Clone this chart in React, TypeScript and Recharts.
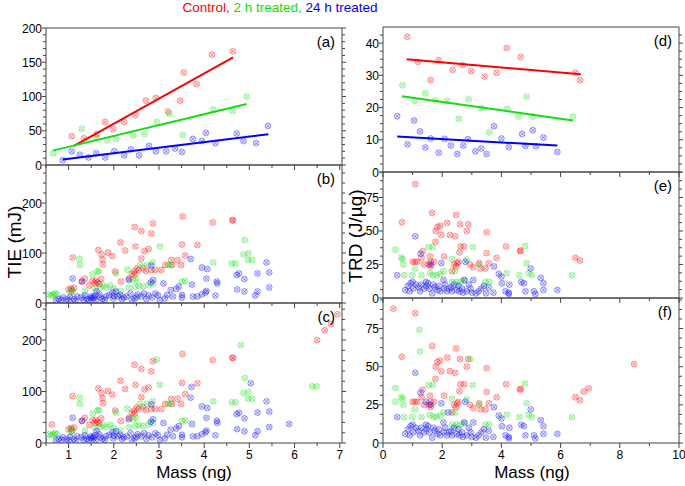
import React from "react";
import { ScatterChart, Scatter, XAxis, YAxis } from "recharts";

type Pt = { x: number; y: number };
const pts = (a: number[][]): Pt[] => a.map(([x, y]) => ({ x, y }));

const RED = "#ff0000";
const GREEN = "#11dd11";
const BLUE = "#0000ff";
const AXIS = "#444";
const FONT = "'Liberation Sans', Arial, sans-serif";

// ticks
const massMajorL = [1, 2, 3, 4, 5, 6, 7];
const massMinorL = [0.5, 1.5, 2.5, 3.5, 4.5, 5.5, 6.5];
const massMajorR = [0, 2, 4, 6, 8, 10];
const massMinorR = [1, 3, 5, 7, 9];
const tieMajorA = [0, 50, 100, 150, 200];
const tieMinorA = [10, 20, 30, 40, 60, 70, 80, 90, 110, 120, 130, 140, 160, 170, 180, 190];
const tieMajorB = [0, 100, 200];
const tieMinorB = [20, 40, 60, 80, 120, 140, 160, 180, 220, 240, 260];
const trdMajorD = [0, 10, 20, 30, 40];
const trdMinorD = [2.5, 5, 7.5, 12.5, 15, 17.5, 22.5, 25, 27.5, 32.5, 35, 37.5, 42.5];
const trdMajorE = [0, 25, 50, 75];
const trdMinorE = [6.25, 12.5, 18.75, 31.25, 37.5, 43.75, 56.25, 62.5, 68.75, 81.25, 87.5, 93.75];

// (a) TIE vs mass, averaged
const redA = [[1.07, 42], [1.34, 39], [1.62, 45], [1.81, 63], [1.99, 52], [2.23, 63], [2.48, 73], [2.71, 94], [2.93, 98], [3.2, 78], [3.47, 94], [3.55, 135], [3.83, 118], [4.17, 161], [4.64, 166]];
const greenA = [[0.66, 17], [1.29, 53], [1.62, 40], [1.86, 36], [2.05, 38], [2.43, 43], [2.68, 45], [2.95, 63], [3.23, 75], [3.52, 44], [4.2, 81], [4.63, 79], [4.94, 100]];
const blueA = [[0.87, 7], [1.07, 20], [1.25, 15], [1.44, 11], [1.61, 17], [1.81, 11], [2.01, 20], [2.23, 14], [2.38, 23], [2.56, 14], [2.78, 28], [2.93, 20], [3.16, 20], [3.36, 24], [3.51, 19], [3.75, 38], [3.95, 35], [4.04, 47], [4.25, 32], [4.72, 46], [4.87, 35], [5.15, 32], [5.41, 57]];
const redFitA = [[1.12, 28], [4.64, 157]];
const greenFitA = [[0.65, 21], [4.94, 89]];
const blueFitA = [[0.87, 8], [5.42, 45]];

// (d) TRD vs mass, averaged
const redD = [[0.82, 42], [1.18, 34.2], [1.61, 28.5], [1.88, 34.7], [2.35, 31.7], [2.69, 33.2], [2.98, 31.3], [3.43, 29.6], [3.84, 30.8], [4.18, 38.5], [4.65, 35.7], [6.5, 30.8], [6.66, 28.5]];
const greenD = [[0.66, 26.9], [1.07, 22.1], [1.43, 24.4], [1.77, 22.2], [2.17, 22.1], [2.56, 16.5], [2.89, 22.5], [3.32, 19.8], [3.59, 12.3], [4.2, 19.6], [4.58, 17.2], [4.85, 23.4], [5.06, 17.2], [6.41, 17.2]];
const blueD = [[0.48, 17.3], [0.83, 8.6], [1.05, 16], [1.25, 12.6], [1.43, 7.6], [1.61, 10.4], [1.88, 6], [2.08, 10.3], [2.29, 8.2], [2.51, 5.6], [2.71, 8.2], [2.87, 10.2], [3.12, 6.4], [3.32, 7.3], [3.5, 5.6], [3.75, 14.2], [4.0, 10.4], [4.25, 7.7], [4.7, 11.8], [4.81, 8.1], [5.06, 13], [5.17, 8], [5.42, 10.7], [5.89, 6.2]];
const redFitD = [[0.8, 35], [6.68, 30.3]];
const greenFitD = [[0.64, 23.5], [6.41, 16]];
const blueFitD = [[0.48, 11], [5.89, 8.2]];

// (b) TIE, individual
const redB = [[1.09, 91], [1.05, 29], [1.08, 24], [1.29, 43], [1.36, 49], [1.46, 35], [1.53, 44], [1.59, 39], [1.66, 106], [1.64, 41], [1.73, 97], [1.75, 87], [1.76, 77], [1.87, 101], [1.97, 94], [2.03, 63], [2.15, 121], [2.16, 43], [2.25, 105], [2.34, 49], [2.46, 152], [2.48, 113], [2.46, 57], [2.45, 63], [2.51, 69], [2.61, 144], [2.61, 89], [2.68, 104], [2.71, 64], [2.77, 108], [2.83, 139], [2.83, 66], [2.87, 159], [2.92, 66], [3.05, 66], [3.14, 76], [3.27, 86], [3.29, 76], [3.41, 86], [3.49, 76], [3.51, 117], [3.52, 173], [3.58, 95], [3.85, 116], [4.19, 161], [4.64, 165], [4.62, 166], [1.6, 45], [1.68, 38], [1.72, 48], [2.4, 58], [2.55, 66], [2.65, 70], [1.0, 27], [1.12, 30]];
const greenB = [[0.57, 17], [0.66, 17], [0.74, 17], [1.07, 26], [1.05, 21], [1.24, 88], [1.25, 76], [1.36, 24], [1.53, 57], [1.64, 63], [1.67, 64], [1.7, 31], [1.77, 35], [1.84, 31], [1.92, 35], [2.0, 29], [2.05, 59], [2.15, 24], [2.3, 67], [2.34, 31], [2.43, 46], [2.48, 33], [2.49, 49], [2.58, 76], [2.65, 33], [2.73, 76], [2.77, 36], [2.86, 81], [2.87, 39], [3.02, 113], [3.2, 76], [3.26, 76], [3.51, 43], [3.58, 44], [4.2, 81], [4.61, 79], [4.69, 79], [4.9, 126], [4.87, 97], [4.98, 99], [4.97, 86], [5.06, 86], [0.62, 15], [0.7, 19], [1.58, 30], [2.55, 35]];
const blueB = [[1.09, 49], [1.3, 43], [0.78, 8], [0.88, 11], [0.96, 7], [1.03, 12], [1.12, 8], [1.19, 13], [1.28, 11], [1.36, 15], [1.41, 8], [1.49, 13], [1.55, 9], [1.59, 15], [1.62, 23], [1.68, 17], [1.75, 8], [1.83, 13], [1.9, 16], [1.97, 21], [1.99, 9], [2.05, 23], [2.09, 13], [2.14, 16], [2.18, 8], [2.28, 13], [2.33, 46], [2.37, 19], [2.46, 9], [2.53, 17], [2.61, 13], [2.67, 19], [2.77, 15], [2.83, 75], [2.82, 41], [2.87, 46], [2.92, 19], [2.98, 15], [3.1, 39], [3.13, 9], [3.18, 16], [3.26, 26], [3.31, 13], [3.38, 28], [3.44, 33], [3.51, 16], [3.51, 11], [3.7, 88], [3.73, 37], [3.75, 13], [3.85, 13], [3.95, 17], [4.03, 21], [4.05, 24], [3.95, 71], [4.07, 68], [4.05, 49], [4.25, 15], [4.28, 43], [4.29, 39], [4.72, 56], [4.77, 59], [4.73, 27], [4.89, 48], [4.89, 23], [5.13, 15], [5.18, 23], [5.18, 59], [5.38, 81], [5.44, 61], [5.44, 31], [1.5, 10], [1.45, 6], [1.6, 5], [1.55, 12], [0.72, 5], [0.84, 6], [1.0, 5], [1.15, 4], [1.33, 6], [1.7, 11], [1.8, 6], [2.0, 14], [2.22, 11], [2.4, 7], [2.5, 12], [2.72, 8], [2.85, 11], [3.02, 6]];

// (c) adds the remaining individual samples
const redCExtra = [[0.63, 36], [6.5, 200], [6.67, 219], [6.81, 231], [6.95, 250]];
const greenCExtra = [[2.95, 162], [4.81, 190], [6.39, 110], [6.49, 110]];
const blueCExtra = [[3.72, 109], [5.03, 116], [5.88, 37], [0.45, 7]];

// (e) TRD, individual
const redE = [[0.64, 56.5], [1.09, 85], [1.0, 27], [1.08, 27], [1.16, 27], [1.34, 35], [1.3, 30], [1.39, 25], [1.59, 31], [1.61, 27], [1.66, 63.5], [1.61, 23.5], [1.72, 27], [1.77, 42], [1.78, 50], [1.84, 53], [1.93, 54], [1.97, 47], [2.06, 31], [2.17, 56], [2.26, 47], [2.33, 20], [2.44, 46], [2.47, 62], [2.58, 34], [2.6, 55], [2.62, 38.5], [2.51, 26], [2.47, 23.5], [2.74, 38.5], [2.83, 50], [2.88, 55], [2.94, 25], [3.05, 23], [3.25, 26], [3.3, 22], [3.46, 22], [3.5, 33.5], [3.5, 49], [3.57, 26], [3.84, 30], [4.16, 38.5], [4.63, 35], [4.65, 35.5], [6.5, 30], [6.65, 28], [1.55, 25], [2.4, 25], [2.55, 27]];
const greenE = [[0.42, 36], [0.62, 30], [0.66, 29], [0.69, 25], [0.71, 17], [0.99, 17], [1.08, 22], [1.3, 17], [1.54, 38], [1.68, 38], [1.59, 18.5], [1.7, 17], [1.81, 17], [1.93, 18], [2.04, 20], [2.33, 29], [2.43, 20], [2.33, 12], [2.49, 12], [2.62, 12], [2.76, 13], [2.83, 28.5], [3.03, 38], [3.25, 25], [3.46, 12], [3.59, 12], [4.18, 18.5], [4.61, 17], [4.8, 39], [4.85, 26], [4.92, 18.5], [5.03, 17], [6.38, 17]];
const blueE = [[0.48, 17], [1.09, 46], [1.27, 33], [0.75, 6], [0.84, 9], [0.93, 11], [1.02, 7], [1.11, 10], [1.2, 8], [1.3, 10], [1.39, 7], [1.47, 9], [1.57, 7], [1.61, 25], [1.66, 3.5], [1.75, 8], [1.84, 6], [1.93, 5], [1.97, 26], [2.04, 13.5], [2.06, 7], [2.15, 5], [2.24, 7], [2.33, 5], [2.4, 10], [2.49, 6], [2.58, 5], [2.67, 7], [2.74, 13.5], [2.78, 27], [2.83, 5], [2.96, 7], [3.05, 13.5], [3.14, 3.5], [3.23, 5], [3.32, 7], [3.41, 9], [3.48, 3.5], [3.57, 8], [3.73, 4], [3.75, 23.5], [3.91, 18], [4.0, 16], [4.02, 11], [4.14, 5], [4.25, 4], [4.27, 10], [4.25, 3], [4.67, 12], [4.76, 11], [4.81, 5], [4.99, 22], [5.1, 5], [5.15, 3], [5.33, 15], [5.42, 11], [5.42, 6], [5.89, 6], [1.0, 12], [1.45, 12], [1.7, 10], [0.9, 5], [1.25, 5], [1.52, 11], [1.88, 9], [2.1, 10], [2.3, 8], [2.55, 9], [2.7, 4], [2.9, 10], [3.0, 4]];

// (f) adds the remaining individual samples
const redFExtra = [[0.35, 88], [6.79, 33.8], [6.95, 35.8], [8.48, 51.8]];
const greenFExtra = [[1.23, 74], [1.25, 60], [2.94, 55], [0.42, 27]];
const blueFExtra = [[1.45, 27], [2.2, 20]];

type Series = { data: number[][]; color: string };

const Marker = (color: string) => (props: any) => {
  const { cx, cy } = props;
  if (cx == null || cy == null) return <g />;
  const d = 1.9;
  return (
    <g>
      <circle cx={cx} cy={cy} r={2.9} fill={color} fillOpacity={0.1} stroke={color} strokeOpacity={0.38} strokeWidth={1} />
      <path
        d={`M${cx - d},${cy - d}L${cx + d},${cy + d}M${cx - d},${cy + d}L${cx + d},${cy - d}`}
        stroke={color}
        strokeOpacity={0.38}
        strokeWidth={0.9}
      />
    </g>
  );
};

const noShape = () => <g />;

function Panel(props: {
  left: number;
  top: number;
  width: number;
  height: number;
  xDomain: [number, number];
  xMajor: number[];
  xMinor: number[];
  yDomain: [number, number];
  yMajor: number[];
  yMinor: number[];
  xLabels?: boolean;
  topTicks?: boolean;
  tag: string;
  series: Series[];
  fits?: Series[];
}) {
  const { left, top, width, height, xMajor, yMajor, xLabels, topTicks } = props;
  const ML = 40, MR = 12, MT = 10, MB = 26, AX = 6;
  const isMajor = (arr: number[], v: number) => arr.indexOf(v) >= 0;

  const bottomTick = (t: any) => {
    const v = t.payload.value;
    const big = isMajor(xMajor, v);
    return (
      <g>
        <line x1={t.x} x2={t.x} y1={t.y} y2={t.y + (big ? 5 : 3)} stroke={AXIS} />
        {xLabels && big && (
          <text x={t.x} y={t.y + 16} textAnchor="middle" fontSize={12} fontFamily={FONT} fill="#000">
            {v}
          </text>
        )}
      </g>
    );
  };
  const topTick = (t: any) => {
    const v = t.payload.value;
    const big = isMajor(xMajor, v);
    if (!topTicks) return <g />;
    return <line x1={t.x} x2={t.x} y1={t.y - 3} y2={t.y + (big ? 4 : 2)} stroke={AXIS} />;
  };
  const leftTick = (t: any) => {
    const v = t.payload.value;
    const big = isMajor(yMajor, v);
    return (
      <g>
        <line x1={t.x - (big ? 4 : 3)} x2={t.x} y1={t.y} y2={t.y} stroke={AXIS} />
        {big && (
          <text x={t.x - 4} y={t.y + 4.5} textAnchor="end" fontSize={12} fontFamily={FONT} fill="#000">
            {v}
          </text>
        )}
      </g>
    );
  };
  const rightTick = (t: any) => {
    const v = t.payload.value;
    const big = isMajor(yMajor, v);
    return <line x1={t.x} x2={t.x + (big ? 4 : 3)} y1={t.y} y2={t.y} stroke={AXIS} />;
  };

  const xTicks = [...props.xMajor, ...props.xMinor].sort((a, b) => a - b);
  const yTicks = [...props.yMajor, ...props.yMinor].sort((a, b) => a - b);

  return (
    <div style={{ position: "absolute", left: left - ML - AX, top: top - MT - AX }}>
      <ScatterChart
        width={width + ML + MR + 2 * AX}
        height={height + MT + MB + 2 * AX}
        margin={{ top: MT, right: MR, bottom: MB, left: ML }}
      >
        <XAxis
          xAxisId="b"
          dataKey="x"
          type="number"
          domain={props.xDomain}
          allowDataOverflow
          ticks={xTicks}
          interval={0}
          height={AX}
          tickSize={0}
          tickMargin={0}
          tickLine={false}
          stroke={AXIS}
          tick={bottomTick}
        />
        <XAxis
          xAxisId="t"
          orientation="top"
          type="number"
          domain={props.xDomain}
          allowDataOverflow
          ticks={xTicks}
          interval={0}
          height={AX}
          tickSize={0}
          tickMargin={0}
          tickLine={false}
          stroke={AXIS}
          tick={topTick}
        />
        <YAxis
          yAxisId="l"
          dataKey="y"
          type="number"
          domain={props.yDomain}
          allowDataOverflow
          ticks={yTicks}
          interval={0}
          width={AX}
          tickSize={0}
          tickMargin={0}
          tickLine={false}
          stroke={AXIS}
          tick={leftTick}
        />
        <YAxis
          yAxisId="r"
          orientation="right"
          type="number"
          domain={props.yDomain}
          allowDataOverflow
          ticks={yTicks}
          interval={0}
          width={AX}
          tickSize={0}
          tickMargin={0}
          tickLine={false}
          stroke={AXIS}
          tick={rightTick}
        />
        {props.series.map((s, i) => (
          <Scatter
            key={"s" + i}
            xAxisId="b"
            yAxisId="l"
            data={pts(s.data)}
            shape={Marker(s.color)}
            isAnimationActive={false}
          />
        ))}
        {(props.fits || []).map((s, i) => (
          <Scatter
            key={"f" + i}
            xAxisId="b"
            yAxisId="l"
            data={pts(s.data)}
            line={{ stroke: s.color, strokeWidth: 2 }}
            shape={noShape}
            isAnimationActive={false}
          />
        ))}
      </ScatterChart>
      <div
        style={{
          position: "absolute",
          left: ML + AX,
          top: MT + AX + 6,
          width: width - 7,
          textAlign: "right",
          fontFamily: FONT,
          fontSize: 15,
          color: "#000",
          lineHeight: "16px",
        }}
      >
        {props.tag}
      </div>
    </div>
  );
}

const vTitle = (text: string, cx: number, cy: number) => (
  <div
    style={{
      position: "absolute",
      left: cx,
      top: cy,
      transform: "translate(-50%, -50%) rotate(-90deg)",
      fontFamily: FONT,
      fontSize: 19,
      whiteSpace: "nowrap",
      color: "#000",
    }}
  >
    {text}
  </div>
);

const hTitle = (text: string, cx: number, top: number) => (
  <div
    style={{
      position: "absolute",
      left: cx,
      top,
      transform: "translateX(-50%)",
      fontFamily: FONT,
      fontSize: 17,
      whiteSpace: "nowrap",
      color: "#000",
    }}
  >
    {text}
  </div>
);

export default function App() {
  const LX: [number, number] = [0.5, 7.05];
  const RX: [number, number] = [0, 10];
  return (
    <div style={{ position: "absolute", left: 0, top: 0, width: 685, height: 486, background: "#fff", overflow: "hidden" }}>
      <div
        style={{
          position: "absolute",
          left: 280,
          top: 0,
          transform: "translateX(-50%)",
          fontFamily: FONT,
          fontSize: 13.5,
          lineHeight: "16px",
          whiteSpace: "nowrap",
        }}
      >
        <span style={{ color: RED }}>Control, </span>
        <span style={{ color: GREEN }}>2 h treated, </span>
        <span style={{ color: BLUE }}>24 h treated</span>
      </div>

      <Panel left={46} top={28} width={296} height={137} xDomain={LX} xMajor={massMajorL} xMinor={massMinorL}
        yDomain={[0, 200]} yMajor={tieMajorA} yMinor={tieMinorA} topTicks tag="(a)"
        series={[{ data: redA, color: RED }, { data: greenA, color: GREEN }, { data: blueA, color: BLUE }]}
        fits={[{ data: redFitA, color: RED }, { data: greenFitA, color: GREEN }, { data: blueFitA, color: BLUE }]} />
      <Panel left={46} top={165} width={296} height={138} xDomain={LX} xMajor={massMajorL} xMinor={massMinorL}
        yDomain={[0, 276]} yMajor={tieMajorB} yMinor={tieMinorB} tag="(b)"
        series={[{ data: redB, color: RED }, { data: greenB, color: GREEN }, { data: blueB, color: BLUE }]} />
      <Panel left={46} top={303} width={296} height={140} xDomain={LX} xMajor={massMajorL} xMinor={massMinorL}
        yDomain={[0, 272]} yMajor={tieMajorB} yMinor={tieMinorB} xLabels tag="(c)"
        series={[{ data: [...redB, ...redCExtra], color: RED }, { data: [...greenB, ...greenCExtra], color: GREEN }, { data: [...blueB, ...blueCExtra], color: BLUE }]} />

      <Panel left={383} top={27} width={296} height={145} xDomain={RX} xMajor={massMajorR} xMinor={massMinorR}
        yDomain={[0, 45]} yMajor={trdMajorD} yMinor={trdMinorD} topTicks tag="(d)"
        series={[{ data: redD, color: RED }, { data: greenD, color: GREEN }, { data: blueD, color: BLUE }]}
        fits={[{ data: redFitD, color: RED }, { data: greenFitD, color: GREEN }, { data: blueFitD, color: BLUE }]} />
      <Panel left={383} top={172} width={296} height={126} xDomain={RX} xMajor={massMajorR} xMinor={massMinorR}
        yDomain={[0, 94]} yMajor={trdMajorE} yMinor={trdMinorE} tag="(e)"
        series={[{ data: redE, color: RED }, { data: greenE, color: GREEN }, { data: blueE, color: BLUE }]} />
      <Panel left={383} top={298} width={296} height={145} xDomain={RX} xMajor={massMajorR} xMinor={massMinorR}
        yDomain={[0, 95]} yMajor={trdMajorE} yMinor={trdMinorE} xLabels tag="(f)"
        series={[{ data: [...redE, ...redFExtra], color: RED }, { data: [...greenE, ...greenFExtra], color: GREEN }, { data: [...blueE, ...blueFExtra], color: BLUE }]} />

      {vTitle("TIE (mJ)", 15, 242)}
      {vTitle("TRD (J/\u00b5g)", 356, 236)}
      {hTitle("Mass (ng)", 194, 463)}
      {hTitle("Mass (ng)", 532, 463)}
    </div>
  );
}
